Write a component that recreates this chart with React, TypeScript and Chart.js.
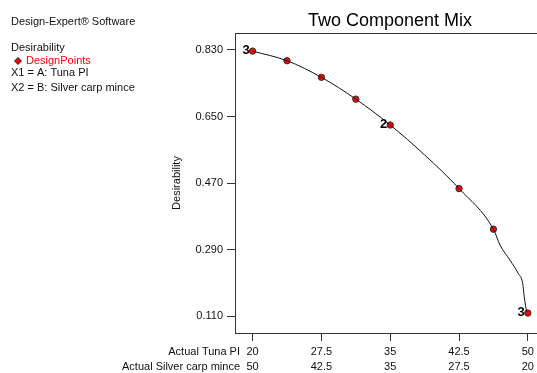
import React, { useEffect, useRef } from "react";
import { Chart, registerables } from "chart.js";

Chart.register(...registerables);

const tunaPI = [20, 23.75, 27.5, 31.25, 35, 42.5, 46.25, 50];
const desirability = [0.827, 0.801, 0.756, 0.697, 0.627, 0.455, 0.345, 0.118];
const replicateLabels = ["3", "", "", "", "2", "", "", "3"];

const curveX = [20, 23.75, 27.5, 31.25, 35, 38.75, 42.5, 46.25, 46.97, 48.06, 48.96, 49.44, 49.61, 49.88, 50];
const curveY = [0.827, 0.801, 0.756, 0.697, 0.627, 0.546, 0.455, 0.345, 0.302, 0.261, 0.225, 0.198, 0.162, 0.122, 0.118];

const xTicks = [20, 27.5, 35, 42.5, 50];
const xTicks2 = ["50", "42.5", "35", "27.5", "20"];
const yTicks = [0.11, 0.29, 0.47, 0.65, 0.83];

const FONT = "'Liberation Sans', Arial, sans-serif";

export default function App() {
  const ref = useRef<HTMLCanvasElement>(null);
  useEffect(() => {
    if (!ref.current) return;
    const overlay = {
      id: "overlay",
      afterDraw(chart: any) {
        const ctx = chart.ctx;
        const ca = chart.chartArea;
        ctx.save();
        // top border
        ctx.strokeStyle = "#333";
        ctx.lineWidth = 1;
        ctx.beginPath();
        ctx.moveTo(ca.left, ca.top + 0.5);
        ctx.lineTo(chart.width, ca.top + 0.5);
        ctx.stroke();
        // title
        ctx.fillStyle = "#000";
        ctx.font = `18px ${FONT}`;
        ctx.textAlign = "center";
        ctx.textBaseline = "middle";
        ctx.fillText("Two Component Mix", 390, 21);
        // left info text
        ctx.font = `11px ${FONT}`;
        ctx.textAlign = "left";
        ctx.fillStyle = "#111";
        ctx.fillText("Design-Expert\u00ae Software", 11, 22);
        ctx.fillText("Desirability", 11, 48);
        ctx.fillStyle = "#ff0000";
        ctx.fillText("DesignPoints", 26, 61);
        ctx.fillStyle = "#111";
        ctx.fillText("X1 = A: Tuna PI", 11, 73);
        ctx.fillText("X2 = B: Silver carp mince", 11, 88);
        // legend diamond
        ctx.fillStyle = "#ff0000";
        ctx.strokeStyle = "#222";
        ctx.beginPath();
        ctx.moveTo(18, 57.5);
        ctx.lineTo(21.5, 61);
        ctx.lineTo(18, 64.5);
        ctx.lineTo(14.5, 61);
        ctx.closePath();
        ctx.fill();
        ctx.stroke();
        // axis row labels
        ctx.fillStyle = "#111";
        ctx.textAlign = "right";
        ctx.fillText("Actual Tuna PI", 240, 352);
        ctx.fillText("Actual Silver carp mince", 240, 367);
        // replicate labels
        const xs = chart.scales.x;
        const ys = chart.scales.y;
        ctx.font = `bold 13px ${FONT}`;
        ctx.fillStyle = "#000";
        replicateLabels.forEach((l, i) => {
          if (!l) return;
          const px = xs.getPixelForValue(tunaPI[i]);
          const py = ys.getPixelForValue(desirability[i]);
          ctx.fillText(l, px - 3, py - 1);
        });
        ctx.restore();
      },
    };
    const chart = new Chart(ref.current, {
      type: "scatter",
      data: {
        datasets: [
          {
            type: "line",
            data: curveX.map((x, i) => ({ x, y: curveY[i] })),
            borderColor: "#111",
            borderWidth: 1,
            pointRadius: 0,
            cubicInterpolationMode: "monotone",
            fill: false,
          } as any,
          {
            data: tunaPI.map((x, i) => ({ x, y: desirability[i] })),
            backgroundColor: "#ff0000",
            borderColor: "#333",
            borderWidth: 1,
            pointRadius: 3.2,
          },
        ],
      },
      options: {
        responsive: false,
        animation: false,
        layout: { autoPadding: false, padding: { top: 33, left: 166, right: 0, bottom: 0 } } as any,
        plugins: { legend: { display: false }, tooltip: { enabled: false } },
        scales: {
          x: {
            type: "linear",
            min: 18.08,
            max: 51.0,
            afterBuildTicks: (s: any) => {
              s.ticks = xTicks.map((v) => ({ value: v }));
            },
            afterFit: (s: any) => {
              s.height = 40;
              s.paddingRight = 0;
              s.paddingLeft = 0;
            },
            ticks: {
              color: "#111",
              font: { family: FONT, size: 11, lineHeight: "15px" } as any,
              padding: 3,
              maxRotation: 0,
              autoSkip: false,
              callback: (v: any) => {
                const i = xTicks.indexOf(Number(v));
                return [String(v), xTicks2[i]];
              },
            },
            grid: { drawOnChartArea: false, tickLength: 8, color: "#333" },
            border: { color: "#333", width: 1 },
          },
          y: {
            min: 0.064,
            max: 0.876,
            afterBuildTicks: (s: any) => {
              s.ticks = yTicks.map((v) => ({ value: v }));
            },
            afterFit: (s: any) => {
              s.width = 69;
              s.paddingTop = 0;
              s.paddingBottom = 0;
            },
            title: {
              display: true,
              text: "Desirability",
              color: "#111",
              font: { family: FONT, size: 11 },
              padding: { top: 4, bottom: 4 },
            },
            ticks: {
              color: "#111",
              font: { family: FONT, size: 11 },
              padding: 4,
              autoSkip: false,
              callback: (v: any) => Number(v).toFixed(3),
            },
            grid: { drawOnChartArea: false, tickLength: 8, color: "#333" },
            border: { color: "#333", width: 1 },
          },
        },
      },
      plugins: [overlay],
    });
    return () => chart.destroy();
  }, []);
  return (
    <div style={{ position: "fixed", left: 0, top: 0, width: 537, height: 373, background: "#fff" }}>
      <canvas ref={ref} width={537} height={373} />
    </div>
  );
}
